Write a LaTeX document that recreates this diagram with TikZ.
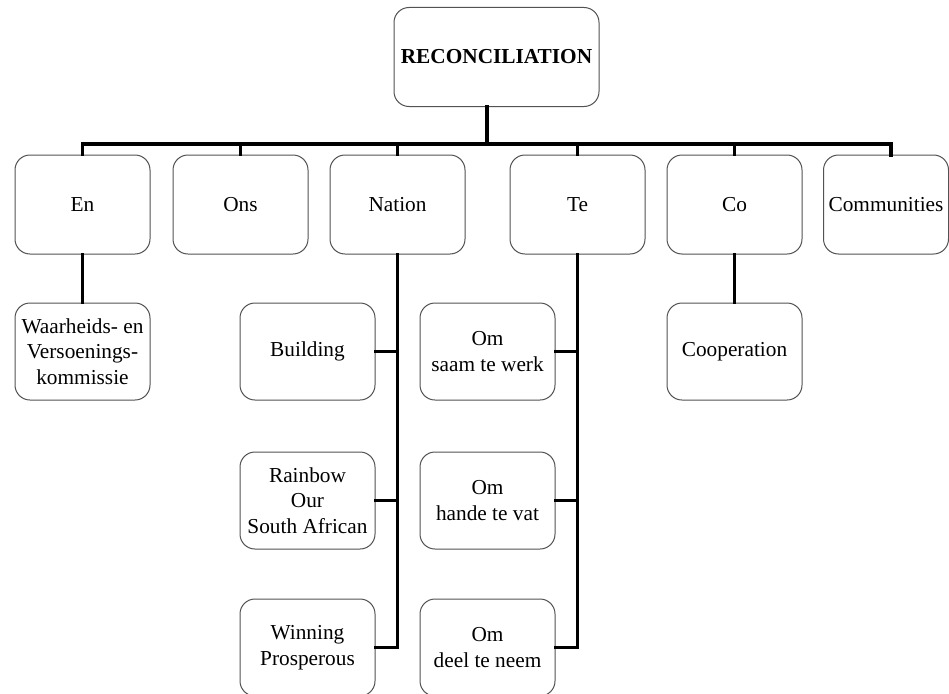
\documentclass[tikz,border=0pt]{standalone}
\usepackage{fontspec}
\setmainfont{Liberation Serif}
\begin{document}
\begin{tikzpicture}[x=1pt,y=-1pt,
  box/.style={draw=black!68, line width=1pt, rounded corners=15pt, fill=white,
    minimum width=135pt, minimum height=99pt, align=center, inner sep=1pt,
    font=\fontsize{21.3}{25.5}\selectfont},
  subbox/.style={box, minimum height=97pt},
  link/.style={line width=3.2pt, line cap=rect}]
\useasboundingbox (0,0) rectangle (949,693);

% root
\node[box, minimum width=205pt] (root) at (496.5,57) {\textbf{RECONCILIATION}};

% first level
\node[box] (en)   at (82.5,204.5)  {En};
\node[box] (ons)  at (240.5,204.5) {Ons};
\node[box] (nat)  at (397.5,204.5) {Nation};
\node[box] (te)   at (577.5,204.5) {Te};
\node[box] (co)   at (734.5,204.5) {Co};
\node[box, minimum width=125pt] (comm) at (886,204.5) {Communities};

% second level
\node[subbox] (wvk)  at (82.5,351.5)  {Waarheids- en\\Versoenings-\\kommissie};
\node[subbox] (coop) at (734.5,351.5) {Cooperation};
\node[subbox] (bld)  at (307.5,351.5) {Building};
\node[subbox] (rbw)  at (307.5,500.5) {Rainbow\\Our\\South African};
\node[subbox] (win)  at (307.5,647.5) {Winning\\Prosperous};
\node[subbox] (om1)  at (487.5,351.5) {Om\\saam te werk};
\node[subbox] (om2)  at (487.5,500.5) {Om\\hande te vat};
\node[subbox] (om3)  at (487.5,647.5) {Om\\deel te neem};

% bus under the root
\coordinate (bus) at (487,144);
\coordinate (commdrop) at (891,155);
\draw[link] (root.south -| bus) -- (bus);
\draw[link] (en.north) |- (bus) -| (commdrop);
\foreach \n in {ons,nat,te,co}{
  \draw[link] (\n.north) -- (\n.north |- bus);
}

% single children
\draw[link] (en.south) -- (wvk.north);
\draw[link] (co.south) -- (coop.north);

% Nation branch
\draw[link] (nat.south) -- (nat.south |- win.east) -- (win.east);
\draw[link] (bld.east) -- (bld.east -| nat.south);
\draw[link] (rbw.east) -- (rbw.east -| nat.south);

% Te branch
\draw[link] (te.south) -- (te.south |- om3.east) -- (om3.east);
\draw[link] (om1.east) -- (om1.east -| te.south);
\draw[link] (om2.east) -- (om2.east -| te.south);
\end{tikzpicture}
\end{document}
